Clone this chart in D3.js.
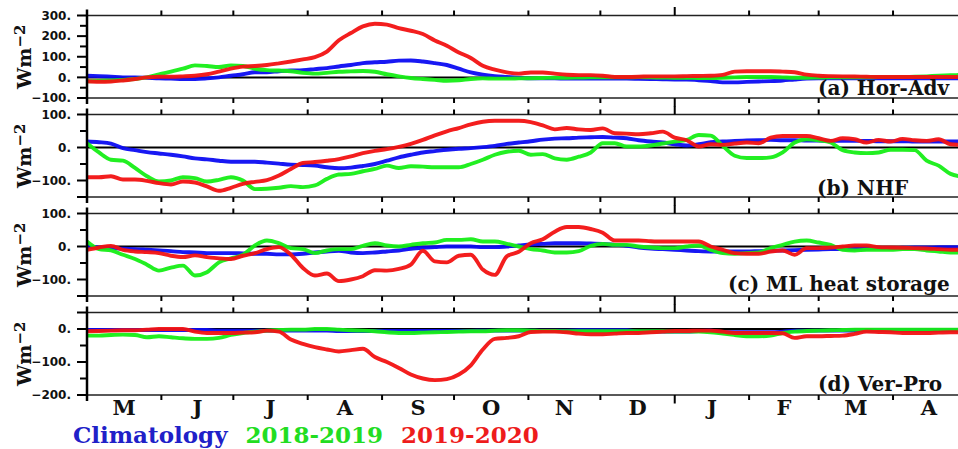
<!DOCTYPE html>
<html><head><meta charset="utf-8">
<script src="https://cdn.jsdelivr.net/npm/d3@7"></script>
<style>body{margin:0;background:#fff}svg{display:block}</style>
</head><body>
<svg id="c" width="958" height="449"></svg>
<script>
// ---- data (values every 5 days starting 1 May 2019) ----
const startDate = new Date(2019, 4, 1);
const endDate = new Date(2020, 4, 1);
const stepDays = 5;
const monthLabels = ["M","J","J","A","S","O","N","D","J","F","M","A"];
const seriesNames = ["Climatology","2018-2019","2019-2020"];
const panelTitles = ["(a) Hor-Adv","(b) NHF","(c) ML heat storage","(d) Ver-Pro"];
const yLabelTicks = [[-100,0,100,200,300],[-100,0,100],[-100,0,100],[-200,-100,0]];

const horAdvClim = [8,6,3,0,0,-2,-5,-6,-8,-8,-5,0,8,15,25,25,30,33,35,40,45,53,60,69,73,76,81,82,77,69,60,42,24,13,6,2,-2,-5,-5,-5,-6,-6,-6,-6,-6,-6,-7,-8,-9,-10,-10,-14,-18,-24,-24,-22,-20,-18,-15,-10,-6,-5,-5,-5,-5,-5,-5,-5,-5,-5,-5,-5,-5,-5];
const horAdv1819 = [-19,-17,-15,-12,-8,0,15,28,42,58,55,50,58,55,42,35,33,30,22,18,22,27,29,31,27,15,5,-3,-8,-12,-16,-14,-8,-5,-6,-6,-5,-4,-3,-2,-2,-1,0,0,0,0,1,0,-1,-2,-2,-3,-3,-2,0,2,2,2,0,-2,-2,-1,0,0,0,0,1,1,2,3,5,8,10,12];
const horAdv1920 = [-19,-21,-20,-15,-8,0,3,3,5,8,15,28,42,52,55,60,68,77,87,98,125,180,215,247,260,256,239,226,210,179,153,121,94,56,37,24,18,24,24,18,13,11,11,8,2,2,3,5,5,5,6,7,8,12,28,30,30,30,28,25,13,8,6,5,4,3,2,2,2,2,2,2,2,2];

const nhfClim = [18,16,12,-2,-8,-14,-18,-22,-27,-33,-36,-40,-43,-43,-43,-46,-49,-52,-53,-55,-60,-63,-61,-56,-50,-40,-30,-22,-15,-11,-7,-4,-2,1,5,11,15,19,24,27,28,30,31,32,30,28,22,18,15,10,6,10,16,18,20,21,22,23,22,22,21,21,20,20,20,20,19,19,19,18,18,18,18,18];
const nhf1819 = [13,-15,-37,-40,-62,-87,-103,-100,-90,-93,-103,-98,-90,-100,-126,-125,-122,-117,-120,-115,-95,-82,-80,-72,-65,-55,-62,-57,-58,-60,-60,-60,-50,-37,-22,-13,-10,-22,-20,-33,-37,-28,-15,13,13,3,3,6,12,18,23,38,36,5,-25,-32,-32,-30,-15,15,25,22,15,-8,-15,-17,-15,-7,-7,-8,-40,-55,-80,-88];
const nhf1920 = [-90,-90,-87,-97,-97,-101,-108,-112,-103,-106,-118,-131,-122,-110,-104,-99,-85,-65,-47,-44,-40,-35,-27,-17,-10,-5,2,11,23,37,49,59,70,78,81,81,81,77,67,55,59,55,53,58,43,42,40,43,48,30,22,3,10,8,12,15,13,30,35,35,35,28,20,28,25,15,23,18,26,22,20,25,10,8];

const mlClim = [0,-3,-5,-7,-8,-10,-12,-14,-17,-18,-20,-20,-20,-21,-22,-22,-24,-24,-22,-18,-15,-13,-18,-20,-18,-15,-12,-7,-4,-2,0,0,0,-2,-2,0,3,6,8,10,10,10,9,8,5,2,-3,-6,-8,-10,-12,-14,-15,-15,-15,-15,-14,-13,-12,-11,-10,-9,-8,-8,-7,-6,-5,-5,-4,-3,-3,-2,-2,-2];
const ml1819 = [15,-8,-12,-25,-38,-55,-73,-64,-58,-88,-78,-48,-36,-25,3,18,10,-5,-8,-20,-12,-8,-8,2,10,3,0,5,10,12,20,20,22,15,15,8,0,-8,-12,-18,-18,-14,2,8,5,5,0,-3,-5,-5,0,3,-10,-20,-22,-20,-18,-5,5,15,18,12,5,-10,-12,-10,-10,-10,-8,-8,-12,-15,-18,-18];
const ml1920 = [-10,-3,2,-10,-15,-17,-20,-28,-32,-27,-32,-36,-38,-28,-20,-8,-2,-25,-65,-88,-82,-105,-100,-90,-72,-73,-68,-55,-13,-45,-48,-28,-25,-70,-86,-30,-16,10,22,45,59,59,53,42,18,18,18,16,15,15,15,15,0,-10,-20,-22,-22,-15,-12,-25,-5,-5,-3,0,3,3,-2,-3,-4,-5,-6,-8,-10,-10];

const vpClim = [-3,-3,-3,-3,-3,-3,-3,-3,-3,-3,-3,-5,-5,-5,-5,-5,-5,-5,-5,-5,-5,-6,-6,-6,-6,-6,-6,-6,-6,-6,-6,-6,-6,-5,-5,-5,-5,-5,-5,-5,-5,-4,-4,-4,-4,-4,-8,-8,-8,-8,-8,-6,-5,-10,-10,-10,-10,-10,-8,-5,-5,-5,-5,-5,-5,-5,-4,-4,-4,-4,-4,-4,-4,-4];
const vp1819 = [-20,-20,-18,-17,-18,-25,-22,-25,-28,-30,-30,-27,-18,-12,-8,-5,-3,-2,-2,0,0,-2,-4,-5,-7,-10,-12,-12,-11,-10,-9,-8,-7,-7,-5,-4,-4,-5,-6,-6,-7,-7,-7,-7,-7,-7,-7,-7,-7,-8,-8,-8,-10,-14,-18,-22,-22,-20,-12,-8,-6,-5,-4,-3,-2,-2,-2,-2,-2,-2,-2,-2,-2,-2];
const vp1920 = [-7,-6,-5,-4,-4,-2,0,0,0,-8,-12,-12,-12,-11,-10,-5,-8,-32,-45,-55,-62,-68,-64,-60,-85,-100,-118,-138,-150,-155,-152,-138,-110,-62,-30,-27,-22,-9,-8,-8,-10,-14,-16,-16,-14,-12,-12,-10,-8,-6,-6,-5,-5,-8,-12,-12,-12,-12,-13,-27,-22,-22,-21,-20,-15,-8,-9,-10,-12,-12,-12,-11,-10,-10];

const panelSeries = [
  [horAdvClim, horAdv1819, horAdv1920],
  [nhfClim, nhf1819, nhf1920],
  [mlClim, ml1819, ml1920],
  [vpClim, vp1819, vp1920]
];
const yDomains = [[-100,300],[-150,100],[-150,100],[-200,50]];

// ---- layout ----
const W = 958, H = 449;
const left = 87, right = 965;
const panelTop0 = 15.5, panelStep = 99, panelH = 82.5;
const lineColors = ["#0c0cf2","#16ee16","#f21212"];
const textColors = ["#2020c8","#22dd22","#ee1c1c"];

const svg = d3.select("#c");
svg.append("rect").attr("width", W).attr("height", H).attr("fill", "#fff");

const x = d3.scaleTime().domain([startDate, endDate]).range([left, right]);
const dates = horAdvClim.map((_, i) => d3.timeDay.offset(startDate, i * stepDays));
const monthStarts = d3.timeMonth.range(startDate, d3.timeDay.offset(endDate, 1));

const fmt = v => (v < 0 ? "\u2212" : "") + Math.abs(v) + ".";

panelSeries.forEach((series, p) => {
  const top = panelTop0 + p * panelStep;
  const bot = top + panelH;
  const y = d3.scaleLinear().domain(yDomains[p]).range([bot, top]);
  const g = svg.append("g");

  const cid = "clip" + p;
  svg.append("clipPath").attr("id", cid).append("rect")
    .attr("x", left).attr("y", top).attr("width", right - left).attr("height", panelH);

  // zero line
  g.append("line").attr("x1", left).attr("x2", right)
    .attr("y1", y(0)).attr("y2", y(0)).attr("stroke", "#000").attr("stroke-width", 2);

  // series
  const line = d3.line().x((d, i) => x(dates[i])).y(d => y(d)).curve(d3.curveMonotoneX);
  const lg = g.append("g").attr("clip-path", `url(#${cid})`);
  series.forEach((vals, s) => {
    lg.append("path").datum(vals).attr("d", line)
      .attr("fill", "none").attr("stroke", lineColors[s])
      .attr("stroke-width", 3.9).attr("stroke-linejoin", "round").attr("stroke-linecap", "round")
      .attr("opacity", 0.95);
  });

  // frame
  g.append("rect").attr("x", left).attr("y", top).attr("width", right - left).attr("height", panelH)
    .attr("fill", "none").attr("stroke", "#222").attr("stroke-width", 1.5);
  g.append("line").attr("x1", left).attr("x2", left).attr("y1", top - 6).attr("y2", bot + 6)
    .attr("stroke", "#000").attr("stroke-width", 2.5);

  // y axis
  const labeled = yLabelTicks[p];
  const all = d3.range(yDomains[p][0], yDomains[p][1] + 1, 50);
  all.forEach(v => {
    const isEnd = v === yDomains[p][0] || v === yDomains[p][1];
    const isMajor = labeled.includes(v) || isEnd;
    g.append("line").attr("x1", left - (isMajor ? 10 : 7)).attr("x2", left)
      .attr("y1", y(v)).attr("y2", y(v)).attr("stroke", "#000").attr("stroke-width", 2);
  });
  g.selectAll("text.yt").data(labeled).enter().append("text")
    .attr("x", 71).attr("y", d => y(d)).attr("dy", "0.36em")
    .attr("text-anchor", "end").attr("font-family", "DejaVu Sans").attr("font-weight", "bold")
    .attr("font-size", 12).attr("fill", "#111").text(fmt);

  // y title
  const t = g.append("text").attr("transform", `translate(31,${(top + bot) / 2}) rotate(-90)`)
    .attr("text-anchor", "middle").attr("font-family", "DejaVu Serif").attr("font-weight", "bold")
    .attr("font-size", 19).attr("fill", "#111");
  t.append("tspan").text("Wm");
  t.append("tspan").attr("dy", -6).attr("font-size", 15).text("\u22122");

  // x ticks (month starts), outward on top and bottom
  monthStarts.forEach(d => {
    const major = d.getMonth() === 0;
    const len = major ? 8.5 : 5;
    const xx = x(d);
    g.append("line").attr("x1", xx).attr("x2", xx).attr("y1", top - len).attr("y2", top)
      .attr("stroke", "#000").attr("stroke-width", 2);
    g.append("line").attr("x1", xx).attr("x2", xx).attr("y1", bot).attr("y2", bot + len)
      .attr("stroke", "#000").attr("stroke-width", 2);
  });

  // panel title
  const titleX = [818, 817, 728, 818][p];
  const titleY = [95, 194.5, 290.7, 390.7][p];
  g.append("text").attr("x", titleX).attr("y", titleY)
    .attr("font-family", "DejaVu Serif").attr("font-weight", "bold").attr("font-size", 20)
    .attr("fill", "#111").text(panelTitles[p]);
});

// month labels
const monthMids = monthStarts.slice(0, 12).map((d, i) => new Date((+d + +monthStarts[i + 1]) / 2));
svg.selectAll("text.ml").data(monthLabels).enter().append("text")
  .attr("x", (d, i) => x(monthMids[i])).attr("y", 415)
  .attr("text-anchor", "middle").attr("font-family", "DejaVu Serif").attr("font-weight", "bold")
  .attr("font-size", 21).attr("fill", "#111").text(d => d);

// legend
let lx = 73;
seriesNames.forEach((name, i) => {
  const tx = svg.append("text").attr("x", lx).attr("y", 443)
    .attr("font-family", "DejaVu Serif").attr("font-weight", "bold").attr("font-size", 23)
    .attr("fill", textColors[i]).text(name);
  lx += tx.node().getComputedTextLength() + 18;
});
</script>
</body></html>
